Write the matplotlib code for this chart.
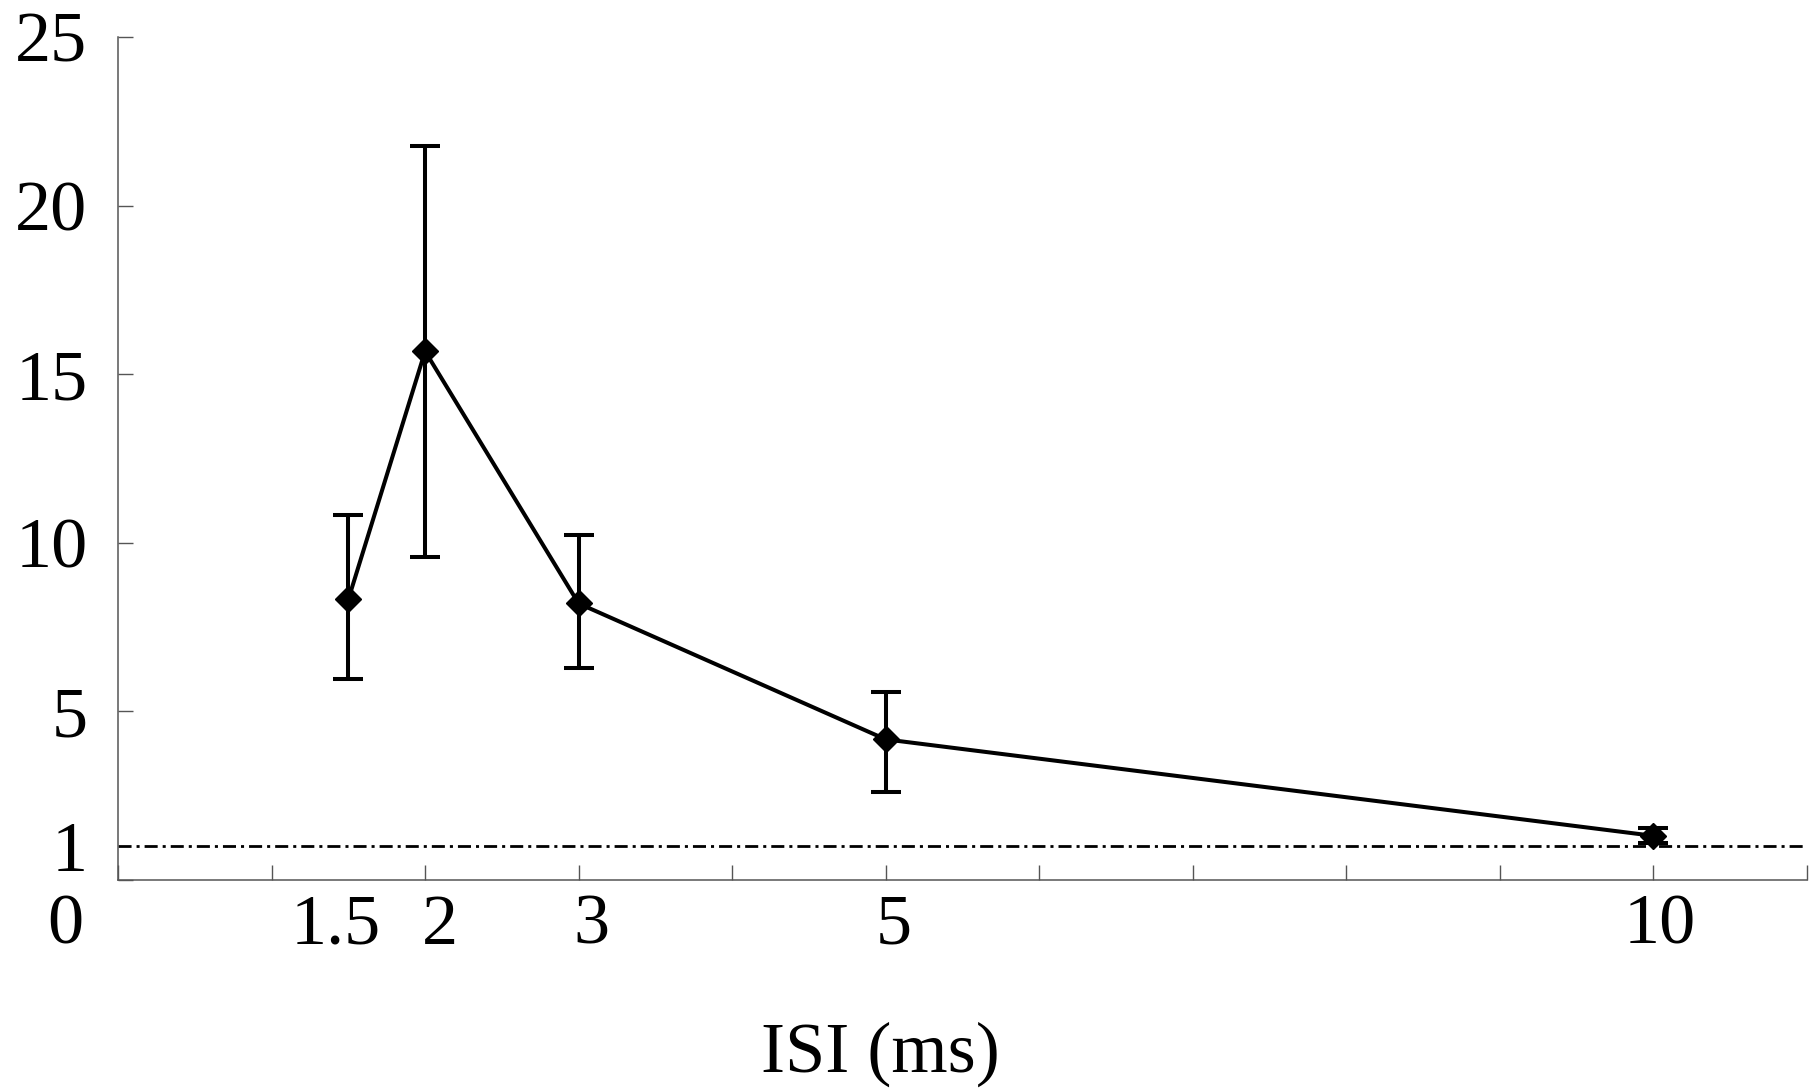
import matplotlib.pyplot as plt
import numpy as np
from matplotlib import transforms

# ISI (ms) against mean response, with asymmetric error bars
isi = np.array([1.5, 2, 3, 5, 10])
mean_resp = np.array([8.32, 15.68, 8.2, 4.17, 1.31])
err_upper = np.array([10.83, 21.77, 10.22, 5.58, 1.55])
err_lower = np.array([5.96, 9.57, 6.30, 2.62, 1.09])

baseline = 1
isi_labels = ['1.5', '2', '3', '5', '10']
y_major = [0, 5, 10, 15, 20, 25]
y_major_labels = ['', '5', '10', '15', '20', '25']

plt.rcParams['font.family'] = ['Liberation Serif', 'DejaVu Serif']
FS = 52

fig = plt.figure(figsize=(18.16, 10.9), dpi=100)
ax = fig.add_axes([118 / 1816, 1 - 880 / 1090, 1689 / 1816, 843 / 1090])

ax.axhline(baseline, color='black', lw=2,
           linestyle=(0, (4.7, 1.8, 1.1, 1.8)), zorder=1)

yerr = np.vstack([mean_resp - err_lower, err_upper - mean_resp])
ax.errorbar(isi, mean_resp, yerr=yerr, color='black', lw=2.9,
            elinewidth=2.9, capsize=11, capthick=2.9,
            marker='D', markersize=13.5, zorder=3)

ax.set_xlim(0, 11)
ax.set_ylim(0, 25)

for side in ['top', 'right']:
    ax.spines[side].set_visible(False)
for side in ['left', 'bottom']:
    ax.spines[side].set_color('#555555')
    ax.spines[side].set_linewidth(1.1)

# x: unlabeled unit ticks; the ISI values are written underneath
ax.set_xticks(np.arange(0, 12))
ax.set_xticklabels([])
ax.tick_params(axis='x', which='major', direction='in', length=11,
               width=1, color='#555555')

label_row = 1 - 926 / 1090
row = transforms.blended_transform_factory(ax.transData, fig.transFigure)
nudge_px = [-13, 15, 13, 8, 6]   # keep "1.5" and "2" apart
for x, txt, dx in zip(isi, isi_labels, nudge_px):
    tr = transforms.offset_copy(row, fig=fig, x=dx, y=0, units='dots')
    ax.text(x, label_row, txt, transform=tr, fontsize=FS,
            ha='center', va='center')

ax.set_yticks(y_major)
ax.set_yticklabels(y_major_labels)
ax.set_yticks([baseline], minor=True)
ax.set_yticklabels(['1'], minor=True)
ax.tick_params(axis='y', which='major', direction='in', length=11,
               width=1, color='#555555', pad=22, labelsize=FS)
ax.tick_params(axis='y', which='minor', length=0, pad=22, labelsize=FS)

# origin label sits on the x label row, left of the axis
fig.text(65 / 1816, label_row, '0', fontsize=FS, ha='center', va='center')

fig.text(880 / 1816, 1 - 1054 / 1090, 'ISI (ms)', fontsize=FS,
         ha='center', va='center')

fig.savefig('out.png', dpi=100)
